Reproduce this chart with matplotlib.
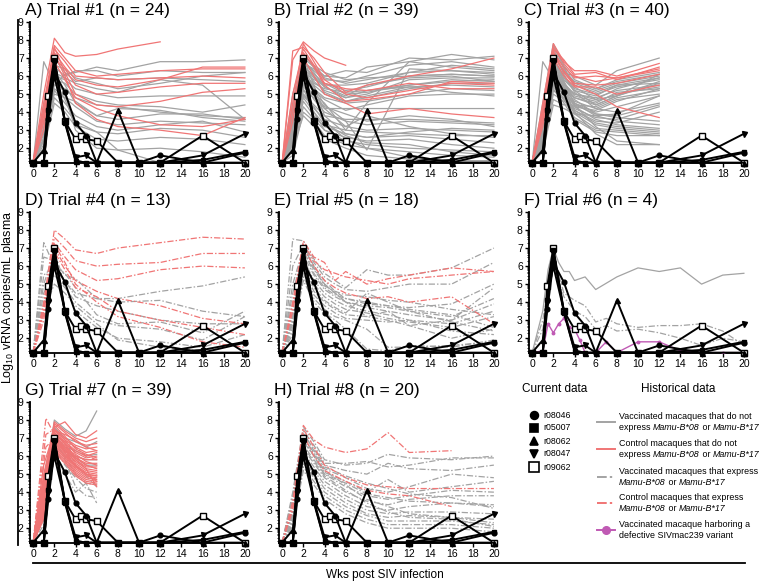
import matplotlib
matplotlib.use("Agg")
import numpy as np
import matplotlib.pyplot as plt
from matplotlib.offsetbox import TextArea, HPacker, VPacker, AnnotationBbox

plt.rcParams['font.family'] = ['Liberation Sans', 'DejaVu Sans']
plt.rcParams['mathtext.fontset'] = 'custom'
plt.rcParams['mathtext.rm'] = 'Liberation Sans'
plt.rcParams['mathtext.it'] = 'Liberation Sans:italic'

GRAY = '#a3a3a3'
RED = '#f07575'
MAG = '#c05ab4'
DASHDOT = (0, (5, 1.6, 1.2, 1.6))

# ---------------- current data (same in every panel) ----------------
CUR_NAMES = ['r08046', 'r05007', 'r08062', 'r08047', 'r09062']
CUR_WEEKS = [0, 1, 1.43, 2, 3, 4, 5, 6, 8, 10, 12, 16, 20]
r08046 = [1.2, 1.2, 3.6, 6.2, 5.1, 3.4, 2.7, 1.2, 1.2, 1.2, 1.6, 1.2, 1.75]
r05007 = [1.2, 1.2, 4.1, 6.9, 3.4, 1.3, 1.2, 1.2, 1.2, 1.2, 1.2, 1.35, 1.8]
r08062 = [1.2, 1.9, 4.3, 6.0, 3.5, 1.3, 1.2, 1.2, 4.1, 1.2, 1.2, 1.2, 1.2]
r08047 = [1.2, 1.2, 4.0, 6.7, 3.5, 1.5, 1.6, 1.2, 1.2, 1.2, 1.2, 1.6, 2.8]
R09062_WEEKS = [0, 1, 1.43, 2, 3, 4, 4.5, 5, 6, 8, 10, 12, 16, 20]
r09062 = [1.2, 1.2, 4.9, 7.0, 3.5, 2.5, 2.7, 2.5, 2.4, 1.2, 1.2, 1.2, 2.7, 1.2]

# ---------------- historical data ----------------
# A) Trial #1
A_WEEKS = [0, 1, 2, 3, 4, 6, 8, 12, 16, 20]
A_CTL = [
    [1.3, 5.0, 8.1, 7.3, 7.1, 7.2, 7.5, 7.9],
    [1.2, 4.5, 7.7, 7.0, 6.3, 6.0, 6.1, 6.3, 6.4, 6.4],
    [1.2, 4.0, 7.5, 6.8, 6.0, 5.9, 5.8, 5.9, 6.0, 5.9],
    [1.2, 4.2, 7.3, 6.5, 5.8, 5.5, 5.4, 5.8, 6.5, 6.5],
    [1.3, 3.5, 7.0, 6.4, 5.5, 5.0, 5.1, 5.4, 5.6, 5.6],
    [1.2, 3.8, 7.6, 6.2, 5.0, 4.4, 4.3, 4.6, 5.1, 5.3],
    [1.2, 3.0, 7.2, 6.0, 4.5, 3.6, 3.2, 3.0, 2.7, 3.7],
    [1.2, 3.5, 6.8, 5.8, 4.8, 4.2, 3.8, 3.3, 3.2, 3.6],
]
A_VAC = [
    [1.2, 6.8, 5.5, 6.1, 6.2, 6.5, 6.3, 6.8, 6.8, 6.9],
    [1.2, 4.0, 6.5, 6.0, 6.3, 6.3, 6.0, 6.3, 6.2, 6.2],
    [1.2, 4.5, 7.0, 6.2, 5.7, 5.9, 5.8, 5.9, 5.8, 5.7],
    [1.2, 3.0, 6.2, 5.9, 5.6, 5.3, 5.1, 5.8, 5.5, 3.6],
    [1.2, 3.5, 6.0, 5.8, 5.3, 5.0, 4.8, 4.9, 4.9, 4.9],
    [1.2, 3.0, 5.8, 5.6, 5.0, 4.6, 4.4, 4.3, 4.0, 4.4],
    [1.2, 2.5, 5.5, 5.3, 4.8, 4.4, 4.3, 4.0, 3.8, 3.7],
    [1.2, 3.2, 6.3, 5.5, 4.5, 3.8, 3.6, 3.9, 3.9, 3.6],
    [1.2, 2.8, 5.0, 4.8, 4.3, 3.5, 3.3, 3.5, 3.4, 3.3],
    [1.2, 2.5, 5.2, 4.5, 3.8, 3.2, 3.0, 3.3, 3.5, 2.9],
    [1.2, 2.2, 4.8, 4.2, 3.5, 2.9, 2.8, 3.1, 3.0, 2.6],
    [1.2, 2.0, 4.5, 4.0, 3.2, 2.5, 2.4, 2.6, 2.5, 2.2],
    [1.2, 2.4, 6.0, 5.0, 3.0, 2.0, 1.9, 2.0, 1.8, 1.5],
    [1.2, 2.0, 5.3, 4.8, 4.6, 3.8, 4.2, 4.1, 3.7, 3.5],
    [1.2, 3.0, 5.8, 4.7, 3.3, 2.9, 1.9, 1.2, 1.2, 1.2],
    [1.2, 2.6, 6.6, 6.4, 5.9, 5.6, 5.3, 5.6, 6.0, 6.2],
]

# B) Trial #2
B_WEEKS = [0, 1, 2, 3, 4, 6, 8, 12, 16, 20]
B_CTL = [
    [1.2, 6.9, 7.9, 7.4, 7.0, 6.6],
    [1.2, 7.4, 7.6, 7.0, 6.2, 5.1, 5.5, 6.0, 6.4, 7.0],
    [1.2, 4.5, 7.8, 6.8, 5.8, 5.0, 4.8, 5.2, 5.6, 5.5],
    [1.2, 4.0, 7.3, 6.5, 5.5, 4.6, 4.7, 5.0, 5.7, 5.6],
    [1.2, 3.5, 7.0, 6.0, 5.0, 4.5, 3.9, 4.2, 3.9, 3.7],
    [1.2, 5.0, 7.5, 6.6, 5.6, 5.3, 5.2, 5.6, 5.3, 5.3],
]
B_VAC = [
    [1.2, 5.0, 7.2, 6.5, 6.0, 6.3, 6.2, 7.0, 6.9, 7.1],
    [1.2, 4.5, 7.0, 6.5, 6.0, 5.9, 6.5, 6.8, 7.2, 6.9],
    [1.2, 4.0, 6.8, 6.3, 5.8, 5.7, 6.0, 6.6, 6.8, 6.5],
    [1.2, 3.5, 6.5, 6.0, 5.5, 5.5, 5.6, 6.2, 6.3, 6.2],
    [1.2, 3.0, 6.2, 5.8, 5.6, 5.2, 5.4, 6.0, 6.1, 6.0],
    [1.2, 3.8, 6.4, 5.7, 5.2, 4.8, 5.0, 5.8, 5.9, 5.9],
    [1.2, 4.2, 6.9, 6.2, 5.4, 4.8, 5.2, 5.5, 5.7, 5.8],
    [1.2, 3.2, 6.0, 5.5, 5.0, 4.6, 4.8, 5.3, 5.6, 5.6],
    [1.2, 2.8, 5.8, 5.3, 4.8, 4.5, 4.6, 5.0, 5.3, 5.2],
    [1.2, 3.6, 6.6, 6.0, 5.1, 4.6, 4.9, 5.4, 5.1, 4.9],
    [1.2, 2.5, 5.5, 5.0, 4.5, 3.0, 4.5, 6.8, 6.5, 6.3],
    [1.2, 3.0, 6.3, 5.4, 4.4, 3.5, 1.9, 6.4, 6.3, 6.1],
    [1.2, 2.5, 5.2, 4.8, 4.2, 4.2, 4.2, 4.2, 4.2, 4.2],
    [1.2, 2.2, 5.0, 4.4, 3.8, 3.6, 3.6, 3.6, 3.5, 3.4],
    [1.2, 2.6, 5.6, 4.7, 4.0, 3.5, 3.3, 3.5, 3.4, 3.3],
    [1.2, 2.0, 5.0, 4.2, 3.6, 3.2, 3.0, 3.1, 3.0, 2.9],
    [1.2, 2.4, 4.8, 4.0, 3.3, 3.0, 2.9, 2.8, 2.7, 2.7],
    [1.2, 2.0, 4.6, 3.8, 3.2, 2.8, 2.6, 2.7, 2.5, 2.3],
    [1.2, 1.8, 4.3, 3.6, 3.0, 2.6, 2.4, 2.5, 2.2, 2.0],
    [1.2, 2.2, 5.3, 4.0, 3.0, 2.4, 2.2, 2.0, 1.9, 1.8],
    [1.2, 1.6, 4.0, 3.5, 2.7, 2.2, 2.0, 1.8, 1.6, 1.5],
    [1.2, 2.0, 3.8, 3.2, 2.5, 2.0, 1.6, 1.4, 1.3, 1.3],
    [1.2, 2.5, 6.2, 5.0, 3.5, 2.5, 2.0, 1.5, 1.3, 1.3],
    [1.2, 3.0, 7.0, 5.5, 3.8, 2.8, 2.6, 2.9, 3.1, 3.0],
    [1.2, 2.8, 6.6, 5.2, 4.2, 3.2, 3.8, 3.2, 2.8, 2.6],
    [1.2, 4.2, 7.2, 6.6, 6.2, 5.8, 5.9, 6.0, 6.1, 6.0],
    [1.2, 3.4, 6.8, 6.1, 5.6, 5.0, 5.1, 5.5, 5.8, 5.7],
    [1.2, 3.1, 5.9, 5.2, 4.7, 4.1, 4.4, 4.9, 5.0, 5.0],
    [1.2, 2.7, 5.4, 4.9, 4.3, 3.9, 3.5, 3.8, 3.6, 3.2],
    [1.2, 3.3, 6.1, 5.6, 5.3, 5.1, 5.2, 5.4, 5.5, 5.4],
    [1.2, 2.3, 4.9, 4.3, 3.4, 2.7, 2.3, 2.2, 1.8, 1.6],
    [1.2, 2.9, 6.4, 5.9, 5.4, 4.9, 5.5, 5.9, 6.0, 5.7],
    [1.2, 3.9, 6.7, 6.4, 5.9, 5.6, 5.8, 6.2, 6.6, 6.4],
]

# C) Trial #3
C_WEEKS = [0, 1, 2, 3, 4, 6, 8, 12]
C_CTL = [
    [1.2, 4.5, 7.8, 6.8, 6.3, 6.3, 6.0, 6.7],
    [1.2, 4.0, 7.5, 6.9, 6.1, 6.2, 5.8, 6.5],
    [1.2, 3.8, 7.3, 6.5, 5.9, 6.0, 5.9, 6.4],
    [1.2, 3.5, 7.1, 6.3, 5.6, 5.5, 5.6, 6.1],
    [1.2, 3.2, 7.0, 6.0, 5.4, 5.4, 5.0, 5.5],
    [1.2, 3.6, 7.4, 6.2, 5.5, 5.0, 4.3, 3.7],
    [1.2, 4.2, 7.6, 6.7, 6.0, 5.7, 5.9, 6.3],
]
C_VAC = [
    [1.2, 6.8, 5.8, 6.2, 6.0, 5.5, 6.3, 7.0],
    [1.2, 4.5, 7.8, 6.6, 5.8, 5.3, 5.8, 6.2],
    [1.2, 4.2, 7.5, 6.4, 5.6, 5.2, 5.6, 6.0],
    [1.2, 4.0, 7.2, 6.2, 5.5, 5.1, 5.5, 5.9],
    [1.2, 3.8, 7.0, 6.0, 5.3, 5.0, 5.4, 5.8],
    [1.2, 3.5, 6.8, 5.8, 5.2, 4.9, 5.5, 5.6],
    [1.2, 3.3, 6.6, 5.6, 5.0, 4.8, 5.2, 5.5],
    [1.2, 3.0, 6.4, 5.5, 4.9, 4.6, 5.0, 5.4],
    [1.2, 2.8, 6.2, 5.4, 4.8, 4.5, 5.1, 5.3],
    [1.2, 3.2, 6.9, 5.9, 5.2, 4.4, 4.9, 5.7],
    [1.2, 2.6, 6.0, 5.3, 4.6, 4.2, 4.7, 5.0],
    [1.2, 2.5, 5.8, 5.1, 4.5, 4.0, 4.3, 4.9],
    [1.2, 2.4, 5.6, 5.0, 4.4, 3.9, 3.8, 4.4],
    [1.2, 2.3, 5.4, 4.8, 4.2, 3.7, 3.6, 4.3],
    [1.2, 2.2, 5.2, 4.7, 4.1, 3.5, 3.4, 4.0],
    [1.2, 2.4, 6.5, 5.6, 4.5, 3.8, 3.5, 3.3],
    [1.2, 2.2, 6.3, 5.4, 4.3, 3.6, 3.3, 3.1],
    [1.2, 2.0, 6.1, 5.2, 4.1, 3.4, 3.2, 3.0],
    [1.2, 2.1, 5.9, 5.0, 4.0, 3.3, 3.1, 2.9],
    [1.2, 2.0, 5.7, 4.9, 3.9, 3.1, 3.0, 2.8],
    [1.2, 1.9, 5.5, 4.7, 3.7, 3.0, 2.9, 2.7],
    [1.2, 1.8, 5.3, 4.5, 3.6, 2.9, 2.7, 2.7],
    [1.2, 1.9, 7.0, 5.7, 4.4, 3.2, 2.4, 2.2],
    [1.2, 2.0, 6.7, 5.3, 4.0, 2.8, 2.2, 2.2],
    [1.2, 2.2, 5.0, 4.6, 4.3, 4.1, 4.6, 5.3],
    [1.2, 2.0, 4.7, 4.4, 4.4, 4.3, 4.8, 5.2],
    [1.2, 1.8, 4.4, 4.2, 3.9, 3.8, 3.9, 4.9],
    [1.2, 2.9, 7.7, 6.5, 5.4, 4.7, 4.9, 6.1],
    [1.2, 3.1, 7.3, 6.1, 5.1, 4.2, 4.0, 4.5],
    [1.2, 2.7, 6.7, 5.7, 4.7, 3.9, 3.7, 3.5],
    [1.2, 2.5, 6.1, 5.5, 5.0, 4.7, 5.3, 5.9],
    [1.2, 3.4, 7.1, 6.3, 5.7, 5.3, 5.7, 6.1],
    [1.2, 2.3, 5.5, 5.2, 4.8, 4.4, 4.9, 5.6],
]

# D) Trial #4
D_WEEKS = [0, 1, 2, 3, 4, 6, 8, 12, 16, 20]
D_CTL_B = [
    [1.2, 4.0, 8.0, 7.5, 6.9, 6.7, 7.0, 7.3, 7.6, 7.5],
    [1.2, 3.8, 7.6, 7.0, 6.3, 6.0, 6.1, 6.2, 6.7, 6.7],
    [1.2, 3.5, 7.3, 6.5, 5.8, 5.2, 5.3, 5.8, 6.0, 5.9],
    [1.2, 3.3, 7.0, 6.0, 5.2, 4.6, 4.2, 3.8, 3.1, 2.8],
    [1.2, 3.0, 6.8, 5.8, 4.8, 4.3, 3.5, 3.0, 2.6, 2.2],
    [1.2, 3.6, 7.2, 6.2, 5.0, 4.0, 3.2, 2.6, 1.8, 1.5],
]
D_VAC_B = [
    [1.2, 7.3, 6.0, 5.2, 4.5, 4.2, 4.2, 4.6, 4.9, 5.4],
    [1.2, 6.5, 6.3, 5.5, 5.3, 4.2, 4.0, 4.1, 3.5, 3.2],
    [1.2, 5.5, 6.0, 5.6, 4.8, 3.3, 2.8, 2.9, 2.3, 3.5],
    [1.2, 4.5, 5.8, 5.2, 4.3, 3.8, 3.5, 3.0, 2.8, 2.8],
    [1.2, 4.0, 5.5, 4.8, 4.0, 3.0, 2.7, 2.5, 1.9, 3.2],
    [1.2, 3.5, 5.0, 4.5, 3.8, 2.8, 1.9, 1.5, 1.3, 1.8],
    [1.2, 5.0, 6.8, 5.0, 3.5, 2.6, 2.0, 1.8, 1.5, 2.2],
]

# E) Trial #5
E_WEEKS = [0, 1, 2, 3, 4, 5, 6, 8, 10, 12, 16, 20]
E_CTL_B = [
    [1.2, 4.0, 7.4, 6.5, 6.2, 5.2, 5.7, 5.0, 5.3, 5.5, 5.9, 5.7],
    [1.2, 3.8, 7.2, 6.3, 5.8, 5.6, 5.4, 5.2, 5.0, 5.3, 5.5, 5.7],
    [1.2, 3.5, 7.0, 6.0, 5.2, 4.8, 4.5, 4.2, 4.3, 4.0, 4.3, 2.8],
]
E_VAC_B = [
    [1.2, 7.5, 7.4, 6.4, 5.6, 5.2, 4.8, 5.8, 5.5, 5.5, 5.9, 7.0],
    [1.2, 6.0, 7.2, 6.2, 5.4, 5.0, 4.7, 4.6, 4.8, 5.0, 5.0, 6.2],
    [1.2, 5.0, 7.0, 6.0, 5.2, 4.6, 4.2, 4.0, 3.8, 3.7, 3.9, 5.0],
    [1.2, 4.5, 6.8, 5.8, 5.0, 4.5, 4.0, 3.8, 3.7, 3.5, 3.2, 4.2],
    [1.2, 4.0, 6.6, 5.5, 4.7, 4.3, 4.0, 3.7, 3.5, 3.3, 3.0, 3.9],
    [1.2, 3.5, 6.4, 5.2, 4.5, 4.1, 3.8, 3.5, 3.3, 3.0, 2.8, 3.5],
    [1.2, 3.2, 6.2, 5.0, 4.3, 3.9, 3.6, 3.4, 3.1, 2.9, 2.6, 3.2],
    [1.2, 3.0, 6.0, 4.8, 4.1, 3.7, 3.4, 4.5, 4.0, 3.5, 2.9, 2.4],
    [1.2, 2.8, 5.8, 4.6, 4.0, 3.6, 3.3, 3.2, 3.0, 2.7, 2.0, 2.5],
    [1.2, 2.6, 5.6, 4.4, 3.8, 3.4, 3.1, 3.0, 2.9, 3.0, 2.4, 2.2],
    [1.2, 2.4, 5.4, 4.2, 3.6, 3.2, 3.0, 2.5, 1.5, 1.5, 1.6, 1.8],
    [1.2, 2.2, 5.2, 4.0, 3.4, 3.0, 2.5, 1.4, 1.3, 1.6, 1.5, 1.9],
    [1.2, 3.4, 7.2, 6.0, 5.0, 4.5, 4.0, 3.2, 3.5, 2.7, 3.0, 4.8],
    [1.2, 2.9, 6.9, 5.6, 4.8, 4.4, 4.2, 3.9, 3.8, 3.6, 3.3, 2.6],
    [1.2, 3.1, 7.1, 5.9, 4.9, 4.6, 4.4, 4.3, 4.1, 4.0, 3.6, 3.3],
]

# F) Trial #6
F_VAC_WEEKS = [0, 1, 1.5, 2, 2.5, 3, 3.5, 4, 5, 6, 8, 10, 12, 14, 16, 18, 20]
F_VAC = [[1.2, 3.5, 5.8, 7.0, 6.2, 5.7, 5.7, 5.2, 5.4, 4.7, 5.4, 5.9, 5.7, 5.9, 5.0, 5.5, 5.6]]
F_VAC_B_WEEKS = [0, 1, 2, 3, 4, 5, 6, 7, 8, 10, 12, 14, 16, 18, 20]
F_VAC_B = [
    [1.2, 3.0, 6.5, 4.5, 4.1, 3.8, 2.9, 3.1, 2.8, 2.6, 2.7, 2.7, 2.8, 2.4, 1.6],
    [1.2, 2.5, 6.0, 4.3, 3.5, 3.2, 2.5, 2.7, 2.4, 2.5, 2.3, 2.0, 1.6, 2.0, 1.8],
]
F_DEF_WEEKS = [0, 1, 1.5, 2, 2.5, 3, 3.5, 4, 4.5, 5, 6, 7, 8, 10, 12, 14, 16, 18, 20]
F_DEF = [1.2, 1.3, 2.8, 2.3, 2.8, 3.1, 2.6, 2.5, 1.9, 1.2, 1.2, 1.8, 1.2, 1.8, 1.8, 1.3, 1.2, 1.2, 1.2]

# G) Trial #7
G_WEEKS = [0, 1, 2, 3, 4, 5, 6]
G_CTL = [
    [1.2, 5.0, 7.6, 7.9, 7.2, 7.0, 7.4],
    [1.2, 4.8, 7.8, 7.3, 6.8, 6.6, 6.7],
    [1.2, 4.5, 7.5, 7.0, 6.6, 6.4, 6.5],
    [1.2, 4.3, 7.4, 6.9, 6.5, 6.2, 6.3],
    [1.2, 4.1, 7.3, 6.8, 6.3, 6.0, 6.2],
    [1.2, 4.0, 7.2, 6.7, 6.2, 5.9, 6.0],
    [1.2, 3.8, 7.1, 6.6, 6.0, 5.8, 5.8],
    [1.2, 3.7, 7.0, 6.5, 5.9, 5.6, 5.6],
    [1.2, 3.5, 7.0, 6.4, 5.8, 5.4, 5.4],
    [1.2, 3.4, 6.9, 6.3, 5.7, 5.3, 5.2],
    [1.2, 3.2, 6.8, 6.2, 5.5, 5.1, 5.0],
    [1.2, 3.1, 6.7, 6.1, 5.4, 5.0, 4.9],
    [1.2, 3.0, 6.6, 6.0, 5.3, 4.9, 4.8],
    [1.2, 2.8, 6.5, 5.9, 5.2, 4.8, 4.7],
    [1.2, 2.7, 6.4, 5.8, 5.1, 4.7, 4.6],
    [1.2, 2.6, 6.3, 5.7, 5.0, 4.6, 4.5],
    [1.2, 2.5, 6.2, 5.6, 4.9, 4.5, 4.4],
    [1.2, 4.6, 7.7, 7.1, 6.4, 6.1, 5.9],
    [1.2, 4.2, 7.5, 6.9, 6.1, 5.7, 5.5],
    [1.2, 3.9, 7.3, 6.7, 5.9, 5.5, 5.3],
    [1.2, 3.6, 7.1, 6.4, 5.6, 5.2, 5.1],
    [1.2, 3.3, 6.9, 6.2, 5.4, 5.0, 4.6],
    [1.2, 5.5, 7.4, 7.2, 6.9, 6.5, 6.3],
    [1.2, 2.9, 6.6, 6.0, 5.5, 5.0, 4.9],
    [1.2, 4.4, 7.9, 7.4, 7.0, 6.8, 7.0],
    [1.2, 3.0, 7.0, 6.5, 5.8, 5.3, 4.3],
]
G_VAC = [
    [1.2, 4.0, 8.0, 7.5, 7.1, 7.4, 8.5],
    [1.2, 3.5, 7.6, 7.0, 6.8, 6.5, 6.8],
    [1.2, 3.0, 7.2, 6.5, 6.3, 6.0, 6.1],
    [1.2, 2.8, 6.8, 6.0, 6.0, 5.8, 5.8],
    [1.2, 3.2, 7.0, 6.3, 5.9, 5.5, 5.5],
]
G_VAC_B = [
    [1.2, 3.0, 6.8, 6.0, 5.0, 4.5, 3.4],
    [1.2, 2.5, 6.5, 5.5, 4.8, 4.2, 4.0],
    [1.2, 2.8, 7.0, 5.8, 4.3, 3.8, 3.7],
    [1.2, 3.5, 7.3, 6.2, 5.5, 4.9, 4.3],
    [1.2, 2.2, 6.0, 5.0, 4.0, 4.5, 4.4],
]
G_CTL_B_WEEKS = [0, 1.2, 2, 3, 4, 5, 6]
G_CTL_B = [
    [1.2, 8.1, 7.2, 6.8, 6.5, 6.0, 5.8],
    [1.2, 7.2, 7.5, 6.6, 6.0, 5.5, 5.3],
    [1.2, 6.5, 7.0, 6.3, 5.5, 5.0, 4.7],
]

# H) Trial #8
H_WEEKS = [0, 1, 2, 3, 4, 6, 8, 10, 12, 16, 20]
H_CTL_B = [
    [1.2, 3.5, 7.7, 6.9, 6.5, 6.2, 6.4, 7.3, 6.2, 6.3],
    [1.2, 3.2, 7.5, 6.5, 5.5, 4.8, 4.4, 4.3, 4.2, 4.2, 4.2],
    [1.2, 3.0, 7.2, 6.0, 5.2, 4.6, 4.1, 3.9, 3.8, 3.2],
]
H_VAC_B = [
    [1.2, 4.0, 7.6, 6.8, 5.8, 5.5, 5.6, 6.1, 5.9, 5.8, 6.0],
    [1.2, 3.8, 7.4, 6.6, 5.6, 5.6, 5.7, 5.4, 5.5, 5.9, 5.9],
    [1.2, 3.6, 7.2, 6.4, 5.5, 5.2, 5.0, 5.6, 5.3, 5.2, 5.5],
    [1.2, 3.4, 7.0, 6.2, 5.3, 4.8, 4.2, 4.0, 4.3, 5.0, 4.8],
    [1.2, 3.2, 6.8, 6.0, 5.1, 4.6, 4.0, 4.7, 4.0, 4.3, 4.6],
    [1.2, 3.0, 6.6, 5.8, 5.0, 4.3, 3.8, 3.6, 3.8, 4.1, 4.0],
    [1.2, 2.8, 6.4, 5.6, 4.8, 4.0, 3.5, 3.3, 3.6, 3.8, 3.8],
    [1.2, 2.6, 6.2, 5.4, 4.6, 3.8, 3.2, 3.0, 3.2, 3.4, 3.2],
    [1.2, 2.4, 6.0, 5.2, 4.4, 3.6, 3.0, 2.8, 2.9, 2.9, 2.8],
    [1.2, 2.2, 5.8, 5.0, 4.2, 3.4, 2.8, 2.6, 2.7, 2.6, 2.5],
    [1.2, 2.0, 5.6, 4.8, 4.0, 3.2, 2.7, 2.4, 2.4, 2.4, 2.2],
    [1.2, 2.3, 5.4, 4.6, 3.8, 3.0, 2.5, 2.2, 2.2, 2.2, 2.0],
    [1.2, 2.1, 5.2, 4.4, 3.6, 2.8, 2.3, 2.0, 2.0, 2.0, 1.8],
    [1.2, 2.5, 6.9, 6.0, 5.0, 4.5, 3.9, 3.7, 3.5, 3.4, 3.3],
    [1.2, 2.7, 7.3, 6.3, 5.4, 4.9, 4.5, 4.2, 3.9, 3.7, 3.1],
    [1.2, 3.1, 7.1, 6.1, 5.2, 4.4, 3.6, 3.2, 2.8, 2.6, 2.3],
    [1.2, 2.9, 6.5, 5.7, 4.9, 4.1, 3.4, 2.9, 2.6, 2.5, 2.1],
]

TITLES = ['A) Trial #1 (n = 24)', 'B) Trial #2 (n = 39)', 'C) Trial #3 (n = 40)',
          'D) Trial #4 (n = 13)', 'E) Trial #5 (n = 18)', 'F) Trial #6 (n = 4)',
          'G) Trial #7 (n = 39)', 'H) Trial #8 (n = 20)']

# groups per panel: (weeks, rows, colour, linestyle)
panels = [
    [(A_WEEKS, A_VAC, GRAY, '-'), (A_WEEKS, A_CTL, RED, '-')],
    [(B_WEEKS, B_VAC, GRAY, '-'), (B_WEEKS, B_CTL, RED, '-')],
    [(C_WEEKS, C_VAC, GRAY, '-'), (C_WEEKS, C_CTL, RED, '-')],
    [(D_WEEKS, D_VAC_B, GRAY, DASHDOT), (D_WEEKS, D_CTL_B, RED, DASHDOT)],
    [(E_WEEKS, E_VAC_B, GRAY, DASHDOT), (E_WEEKS, E_CTL_B, RED, DASHDOT)],
    [(F_VAC_WEEKS, F_VAC, GRAY, '-'), (F_VAC_B_WEEKS, F_VAC_B, GRAY, DASHDOT)],
    [(G_WEEKS, G_VAC, GRAY, '-'), (G_WEEKS, G_VAC_B, GRAY, DASHDOT),
     (G_WEEKS, G_CTL, RED, '-'), (G_CTL_B_WEEKS, G_CTL_B, RED, DASHDOT)],
    [(H_WEEKS, H_VAC_B, GRAY, DASHDOT), (H_WEEKS, H_CTL_B, RED, DASHDOT)],
]

W, H = 760, 581
fig = plt.figure(figsize=(W / 100, H / 100), dpi=100)

COL_LEFT = [30, 279, 529]
ROW_TOP = [22, 212, 402]
AX_W, AX_H = 217, 141

# (weeks, values, marker, face colour, size, zorder)
cur = [
    (CUR_WEEKS, r08046, 'o', 'black', 3.4, 6),
    (CUR_WEEKS, r05007, 's', 'black', 3.5, 6),
    (CUR_WEEKS, r08062, '^', 'black', 3.6, 6),
    (CUR_WEEKS, r08047, 'v', 'black', 3.6, 6),
    (R09062_WEEKS, r09062, 's', 'white', 4.3, 5),
]

minor = [n + np.log10(k) for n in range(1, 9) for k in range(2, 10)]
minor = [m for m in minor if 1.18 < m < 9]

for i, groups in enumerate(panels):
    r, c = divmod(i, 3)
    left, top = COL_LEFT[c], ROW_TOP[r]
    ax = fig.add_axes([left / W, 1 - (top + AX_H) / H, AX_W / W, AX_H / H])
    for weeks, rows, color, ls in groups:
        for vals in rows:
            ax.plot(weeks[:len(vals)], vals, color=color, ls=ls, lw=0.9, zorder=2)
    if i == 5:
        ax.plot(F_DEF_WEEKS, F_DEF, color=MAG, lw=1.0, marker='o', ms=1.8, zorder=3)
    for weeks, vals, mk, fc, ms, z in cur:
        ax.plot(weeks, vals, color='black', lw=1.4, marker=mk, ms=ms,
                mfc=fc, mec='black', mew=1.0, zorder=z, clip_on=False)
    ax.set_xlim(-0.3, 20.2)
    ax.set_ylim(1.18, 9)
    ax.set_xticks(range(0, 21, 2))
    ax.set_yticks(range(2, 10))
    ax.set_yticks(minor, minor=True)
    for s in ['top', 'right']:
        ax.spines[s].set_visible(False)
    for s in ['left', 'bottom']:
        ax.spines[s].set_linewidth(1.3)
    ax.tick_params(labelsize=7.5, length=3, width=1, pad=1.5)
    ax.tick_params(axis='y', which='minor', length=1.5, width=0.6)
    ax.patch.set_alpha(0)
    fig.text((left - 5) / W, 1 - (top - 12) / H, TITLES[i],
             fontsize=12.5, va='center', ha='left')

# overlay for frame lines and legend (pixel coordinates)
ov = fig.add_axes([0, 0, 1, 1], zorder=-1)
ov.set_xlim(0, W)
ov.set_ylim(H, 0)
ov.axis('off')
ov.plot([18, 18], [20, 545], color='black', lw=1.3)
ov.plot([33, 745], [563, 563], color='black', lw=1.3)
fig.text(8 / W, 1 - 297 / H, 'Log$_{10}$ vRNA copies/mL plasma', rotation=90,
         fontsize=9, ha='center', va='center')
fig.text(385 / W, 1 - 575 / H, 'Wks post SIV infection', fontsize=8.5,
         ha='center', va='center')

ov2 = fig.add_axes([0, 0, 1, 1])
ov2.set_xlim(0, W)
ov2.set_ylim(H, 0)
ov2.axis('off')

ov2.text(555, 389, 'Current data', fontsize=8.5, ha='center', va='center')
ov2.text(678, 389, 'Historical data', fontsize=8.5, ha='center', va='center')

cur_y = [415, 428, 441, 454, 467]
for (weeks, vals, mk, fc, ms, z), name, y in zip(cur, CUR_NAMES, cur_y):
    ov2.plot([534], [y], marker=mk, ms=ms + 2.2, mfc=fc, mec='black', mew=1.2,
             color='black', ls='none')
    ov2.text(543, y, name, fontsize=6.3, ha='left', va='center')

tp = dict(fontsize=6.4)
ti = dict(fontsize=6.4, fontstyle='italic')


def mamu_line(prefix):
    return HPacker(children=[TextArea(prefix, textprops=tp),
                             TextArea('Mamu-B*08', textprops=ti),
                             TextArea(' or ', textprops=tp),
                             TextArea('Mamu-B*17', textprops=ti)],
                   align='baseline', pad=0, sep=0)


hist = [
    (422, GRAY, '-', [TextArea('Vaccinated macaques that do not', textprops=tp),
                      mamu_line('express ')]),
    (449, RED, '-', [TextArea('Control macaques that do not', textprops=tp),
                     mamu_line('express ')]),
    (477, GRAY, DASHDOT, [TextArea('Vaccinated macaques that express', textprops=tp),
                          mamu_line('')]),
    (503, RED, DASHDOT, [TextArea('Control macaques that express', textprops=tp),
                         mamu_line('')]),
    (530, MAG, '-', [TextArea('Vaccinated macaque harboring a', textprops=tp),
                     TextArea('defective SIVmac239 variant', textprops=tp)]),
]
for y, color, ls, lines in hist:
    ov2.plot([597, 615], [y, y], color=color, lw=1.4, ls=ls)
    if color == MAG:
        ov2.plot([606], [y], color=color, marker='o', ms=5.5)
    box = VPacker(children=lines, align='left', pad=0, sep=1.5)
    ab = AnnotationBbox(box, (619, y), xycoords='data', box_alignment=(0, 0.5),
                        frameon=False, pad=0)
    ov2.add_artist(ab)

fig.savefig('out.png', dpi=100)
